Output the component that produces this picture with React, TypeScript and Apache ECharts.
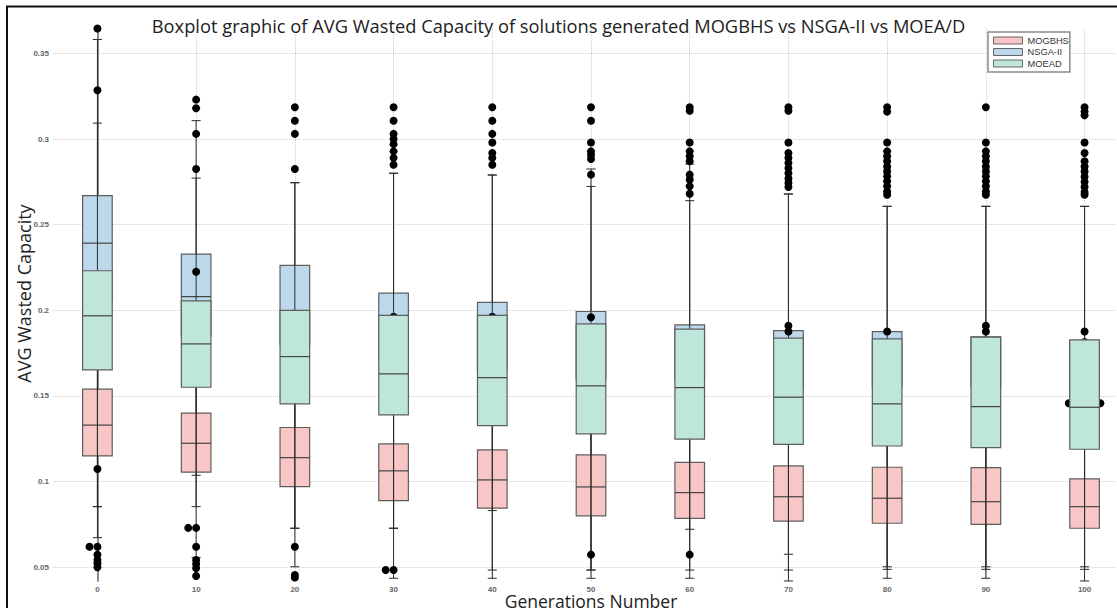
import React, { useEffect, useRef } from "react";
import * as echarts from "echarts";

// ---------- data ----------
const generations = [0, 10, 20, 30, 40, 50, 60, 70, 80, 90, 100];

// [min whisker, Q1, median, Q3, max whisker]
const mogbhsBoxes = [
  [0.0673, 0.115, 0.133, 0.154, 0.2],
  [0.0558, 0.1055, 0.1224, 0.14, 0.18],
  [0.0503, 0.0971, 0.114, 0.1316, 0.17],
  [0.0436, 0.0889, 0.1063, 0.122, 0.16],
  [0.0436, 0.0845, 0.101, 0.1185, 0.15],
  [0.0436, 0.08, 0.0969, 0.1156, 0.15],
  [0.0436, 0.0786, 0.0936, 0.1113, 0.15],
  [0.042, 0.077, 0.0912, 0.1092, 0.15],
  [0.0436, 0.0757, 0.0903, 0.1084, 0.15],
  [0.0436, 0.0751, 0.0883, 0.1082, 0.15],
  [0.042, 0.0728, 0.0854, 0.1016, 0.145],
];

const nsga2Boxes = [
  [0.0854, 0.205, 0.2392, 0.2669, 0.3581],
  [0.1037, 0.185, 0.208, 0.2328, 0.3107],
  [0.0728, 0.18, 0.198, 0.2262, 0.2745],
  [0.0728, 0.17, 0.19, 0.21, 0.28],
  [0.0831, 0.165, 0.185, 0.2046, 0.279],
  [0.0484, 0.16, 0.18, 0.1993, 0.2825],
  [0.0722, 0.16, 0.178, 0.1915, 0.2854],
  [0.0576, 0.155, 0.172, 0.1882, 0.2679],
  [0.0503, 0.155, 0.17, 0.1876, 0.2607],
  [0.0503, 0.155, 0.17, 0.1845, 0.2607],
  [0.0503, 0.15, 0.165, 0.182, 0.2607],
];

const moeadBoxes = [
  [0.0854, 0.1652, 0.1968, 0.2231, 0.3093],
  [0.0854, 0.1551, 0.1804, 0.2055, 0.2772],
  [0.0728, 0.1454, 0.173, 0.2, 0.2745],
  [0.0728, 0.139, 0.1629, 0.197, 0.28],
  [0.0484, 0.1327, 0.1607, 0.197, 0.279],
  [0.0484, 0.1279, 0.1559, 0.1921, 0.2723],
  [0.0484, 0.1248, 0.1549, 0.189, 0.264],
  [0.0484, 0.1218, 0.1493, 0.1838, 0.2679],
  [0.0488, 0.1208, 0.1454, 0.1833, 0.2607],
  [0.0488, 0.1199, 0.1438, 0.1843, 0.2607],
  [0.0488, 0.1189, 0.1434, 0.1828, 0.2607],
];

// outliers: [category position, value]
const outliersAbove = [
  [0, 0.3645], [0, 0.3285], [0, 0.1074], [-0.08, 0.062], [0, 0.062], [0, 0.0573], [0, 0.0543], [0, 0.0524], [0, 0.05],
  [1, 0.323], [1, 0.318], [1, 0.303], [1, 0.2825], [1, 0.2225], [0.92, 0.073], [1, 0.073], [1, 0.062], [1, 0.0543], [1, 0.0519], [1, 0.0494], [1, 0.0449],
  [2, 0.3185], [2, 0.3107], [2, 0.303], [2, 0.2825], [2, 0.062], [2, 0.0455], [2, 0.044],
  [3, 0.3185], [3, 0.3107], [3, 0.303], [3, 0.3], [3, 0.297], [3, 0.2928], [3, 0.289], [3, 0.285], [2.92, 0.0484], [3, 0.0484],
  [4, 0.3185], [4, 0.3107], [4, 0.303], [4, 0.298], [4, 0.2918], [4, 0.289], [4, 0.285],
  [5, 0.3185], [5, 0.3107], [5, 0.298], [5, 0.2928], [5, 0.2908], [5, 0.2883], [5, 0.2792], [5, 0.196], [5, 0.0574],
  [6, 0.3185], [6, 0.3165], [6, 0.298], [6, 0.2928], [6, 0.2899], [6, 0.287], [6, 0.2792], [6, 0.2763], [6, 0.2724], [6, 0.268], [6, 0.0574],
  [7, 0.3185], [7, 0.3165], [7, 0.298], [7, 0.2918], [7, 0.289], [7, 0.286], [7, 0.283], [7, 0.28], [7, 0.277], [7, 0.2743], [7, 0.272], [7, 0.191], [7, 0.1876],
  [8, 0.3185], [8, 0.316], [8, 0.298], [8, 0.2928], [8, 0.2899], [8, 0.287], [8, 0.284], [8, 0.2811], [8, 0.2782], [8, 0.2753], [8, 0.2724], [8, 0.2694], [8, 0.2675], [8, 0.1876],
  [9, 0.3185], [9, 0.298], [9, 0.2928], [9, 0.2899], [9, 0.287], [9, 0.284], [9, 0.2811], [9, 0.2782], [9, 0.2753], [9, 0.2724], [9, 0.2694], [9, 0.2675], [9, 0.191], [9, 0.1876],
  [10, 0.3185], [10, 0.316], [10, 0.3138], [10, 0.298], [10, 0.2918], [10, 0.287], [10, 0.284], [10, 0.281], [10, 0.278], [10, 0.275], [10, 0.272], [10, 0.269], [10, 0.2675], [10, 0.1876],
];

// outliers partly hidden behind the MOEAD boxes
const outliersBelow = [
  [3, 0.1962], [4, 0.1962], [10, 0.1815], [9.84, 0.1458], [10.16, 0.1458],
];

const seriesNames = ["MOGBHS", "NSGA-II", "MOEAD"];
const colors = ["#f8c6c4", "#bdd8eb", "#bee6da"];

const BORDER = "#5e5e5e";
const WHISKER = "#2a2a2a";

function renderBox(params: any, api: any) {
  const x = api.value(0);
  const lo = api.coord([x, api.value(1)]);
  const q1 = api.coord([x, api.value(2)]);
  const md = api.coord([x, api.value(3)]);
  const q3 = api.coord([x, api.value(4)]);
  const hi = api.coord([x, api.value(5)]);
  const band = api.size([1, 0])[0];
  const hb = band * 0.15;
  const hc = band * 0.046;
  const fill = api.visual("color");
  const ln = (x1: number, y1: number, x2: number, y2: number) => ({
    type: "line",
    shape: { x1, y1, x2, y2 },
    style: { stroke: WHISKER, lineWidth: 1 },
  });
  return {
    type: "group",
    children: [
      ln(q3[0], q3[1], hi[0], hi[1]),
      ln(q1[0], q1[1], lo[0], lo[1]),
      ln(hi[0] - hc, hi[1], hi[0] + hc, hi[1]),
      ln(lo[0] - hc, lo[1], lo[0] + hc, lo[1]),
      {
        type: "rect",
        shape: { x: q3[0] - hb, y: q3[1], width: hb * 2, height: q1[1] - q3[1] },
        style: { fill, stroke: BORDER, lineWidth: 1.2 },
      },
      {
        type: "line",
        shape: { x1: md[0] - hb, y1: md[1], x2: md[0] + hb, y2: md[1] },
        style: { stroke: "#444", lineWidth: 1.2 },
      },
    ],
  };
}

export default function App() {
  const ref = useRef<HTMLDivElement>(null);
  useEffect(() => {
    if (!ref.current) return;
    const chart = echarts.init(ref.current, undefined, { renderer: "svg" });
    const boxSets = [mogbhsBoxes, nsga2Boxes, moeadBoxes];
    const boxSeries = boxSets.map((set, k) => ({
      type: "custom",
      name: seriesNames[k],
      z: [2, 3, 5][k],
      clip: false,
      itemStyle: { color: colors[k], borderColor: BORDER, borderWidth: 1 },
      renderItem: renderBox,
      encode: { x: 0, y: [1, 2, 3, 4, 5] },
      data: set.map((b, i) => [i, ...b]),
    }));
    chart.setOption({
      animation: false,
      backgroundColor: "#ffffff",
      title: {
        text: "Boxplot graphic of AVG Wasted Capacity of solutions generated MOGBHS vs NSGA-II vs MOEA/D",
        left: "center",
        top: 11,
        textStyle: { fontFamily: "Open Sans", fontSize: 18.3, fontWeight: "normal", color: "#222" },
      },
      legend: {
        orient: "vertical",
        left: 988,
        top: 32,
        padding: [4, 1, 4, 5],
        itemGap: 2.5,
        itemWidth: 29,
        itemHeight: 7,
        borderColor: "#8a8a8a",
        borderWidth: 1.5,
        backgroundColor: "#ffffff",
        textStyle: { fontFamily: "Liberation Sans", fontSize: 9.3, color: "#333" },
        data: seriesNames.map((n, k) => ({
          name: n,
          icon: "rect",
          itemStyle: { color: colors[k], borderColor: "#666", borderWidth: 1 },
        })),
      },
      grid: { left: 53, right: -12, top: 28, bottom: 27, outerBoundsMode: "none", containLabel: false },
      xAxis: {
        type: "value",
        min: -0.45,
        max: 10.45,
        splitNumber: 11,
        name: "Generations Number",
        nameLocation: "middle",
        nameGap: 13,
        nameMoveOverlap: false,
        nameTextStyle: { fontFamily: "Open Sans", fontSize: 17.5, color: "#222", lineHeight: 13 },
        axisLine: { show: false },
        axisTick: { show: false },
        axisLabel: {
          showMinLabel: false,
          showMaxLabel: false,
          margin: 4,
          fontFamily: "Liberation Sans",
          fontSize: 8,
          lineHeight: 9,
          fontWeight: "bold",
          color: "#666",
          formatter: (v: number) => (Number.isInteger(v) && generations[v] !== undefined ? String(generations[v]) : ""),
        },
        splitLine: {
          show: true,
          showMinLine: false,
          showMaxLine: false,
          lineStyle: { color: "#d0d0d0", type: "dotted", width: 1 },
        },
      },
      yAxis: {
        type: "value",
        min: 0.042,
        max: 0.3648,
        name: "AVG Wasted Capacity",
        nameLocation: "middle",
        nameGap: 20,
        nameMoveOverlap: false,
        nameTextStyle: { fontFamily: "Open Sans", fontSize: 18, color: "#222", padding: [0, 0, 0, 22] },
        axisLine: { show: true, lineStyle: { color: "#8c8c8c", width: 2 } },
        axisTick: { show: false },
        axisLabel: {
          showMinLabel: false,
          showMaxLabel: false,
          margin: 4,
          fontFamily: "Liberation Sans",
          fontSize: 8,
          fontWeight: "bold",
          color: "#666",
        },
        splitLine: {
          show: true,
          showMinLine: false,
          showMaxLine: false,
          lineStyle: { color: "#d0d0d0", type: "dotted", width: 1 },
        },
      },
      graphic: [
        { type: "line", shape: { x1: 6, y1: 6.5, x2: 1117, y2: 6.5 }, style: { stroke: "#111", lineWidth: 2 }, z: 100 },
        { type: "line", shape: { x1: 7, y1: 6, x2: 7, y2: 608 }, style: { stroke: "#111", lineWidth: 2 }, z: 100 },
      ],
      series: [
        boxSeries[0],
        boxSeries[1],
        {
          type: "scatter",
          name: "outliers-hidden",
          z: 4,
          clip: false,
          symbol: "circle",
          symbolSize: 8,
          itemStyle: { color: "#000", opacity: 1 },
          data: outliersBelow,
        },
        boxSeries[2],
        {
          type: "scatter",
          name: "outliers",
          z: 6,
          clip: false,
          symbol: "circle",
          symbolSize: 8,
          itemStyle: { color: "#000", opacity: 1 },
          data: outliersAbove,
        },
      ],
    });
    return () => chart.dispose();
  }, []);
  return (
    <div
      ref={ref}
      style={{ position: "fixed", left: 0, top: 0, width: 1117, height: 608, background: "#fff" }}
    />
  );
}
